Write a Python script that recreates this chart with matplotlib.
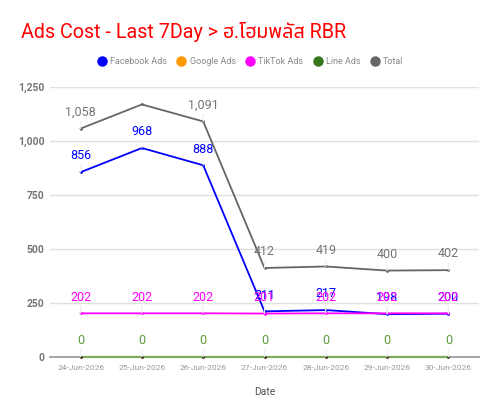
import matplotlib
matplotlib.use("Agg")
import matplotlib.pyplot as plt
from matplotlib.ticker import FuncFormatter

plt.rcParams['font.family'] = ['Roboto', 'Noto Sans Thai', 'DejaVu Sans']

# ข้อมูล
dates = ['24-Jun-2026', '25-Jun-2026', '26-Jun-2026', '27-Jun-2026',
         '28-Jun-2026', '29-Jun-2026', '30-Jun-2026']
facebook = [856, 968, 888, 211, 217, 198, 200]
google = [0, 0, 0, 0, 0, 0, 0]
tiktok = [202, 202, 202, 201, 202, 202, 202]
line_ads = [0, 0, 0, 0, 0, 0, 0]
total = [1058, 1170, 1091, 412, 419, 400, 402]

series = [
    ('Total', total, '#666666', '#757575', [0, 2, 3, 4, 5, 6]),
    ('Facebook Ads', facebook, '#0000ff', '#0000ff', range(7)),
    ('Google Ads', google, '#ff9900', '#ff9900', []),
    ('TikTok Ads', tiktok, '#ff00ff', '#ff00ff', range(7)),
    ('Line Ads', line_ads, '#7cae5a', '#5b9a3c', range(7)),
]
legend_order = ['Facebook Ads', 'Google Ads', 'TikTok Ads', 'Line Ads', 'Total']
legend_colors = {'Facebook Ads': '#0000ff', 'Google Ads': '#ff9900',
                 'TikTok Ads': '#ff00ff', 'Line Ads': '#38761d', 'Total': '#666666'}

fig = plt.figure(figsize=(5, 4.15), dpi=100)
ax = fig.add_axes([0.10, 0.14, 0.858, 0.65])

x = list(range(len(dates)))
for k, (name, vals, col, lab_col, show) in enumerate(series):
    lw = 1.6 if name == 'Line Ads' else 1.3
    ax.plot(x, vals, color=col, lw=lw, marker='o', markersize=2,
            markerfacecolor='#333333' if name == 'Line Ads' else col,
            markeredgewidth=0, zorder=3, clip_on=False)
    for i in show:
        ax.annotate(f'{vals[i]:,}', (x[i], vals[i]), xytext=(0, 7),
                    textcoords='offset points', ha='center', va='bottom',
                    fontsize=9, color=lab_col, zorder=4 + k,
                    arrowprops=dict(arrowstyle='-', color='#eeeeee', lw=0.8,
                                    shrinkA=0, shrinkB=0))

ax.set_xlim(-0.5, 6.5)
ax.set_ylim(0, 1250)
ax.set_yticks([0, 250, 500, 750, 1000, 1250])
ax.yaxis.set_major_formatter(FuncFormatter(lambda v, p: f'{int(v):,}'))
ax.set_xticks(x)
ax.set_xticklabels(dates, fontsize=6, color='#999999')
for t in ax.get_yticklabels():
    t.set_fontsize(7.5)
    t.set_color('#757575')
    t.set_fontweight('bold')
ax.tick_params(length=0, pad=4)
ax.tick_params(axis='x', pad=6)
ax.grid(axis='y', color='#e0e0e0', lw=1)
ax.set_axisbelow(True)
for s in ['top', 'right', 'left']:
    ax.spines[s].set_visible(False)
ax.spines['bottom'].set_color('#9e9e9e')
ax.spines['bottom'].set_linewidth(1.3)
ax.set_xlabel('Date', fontsize=7.5, color='#555555', labelpad=11)

fig.text(0.042, 0.908, 'Ads Cost - Last 7Day > ฮ.โฮมพลัส RBR', fontsize=14.2,
         color='#ff0000', va='baseline')

handles = [plt.Line2D([], [], ls='', marker='o', markersize=6.5,
                      color=legend_colors[n]) for n in legend_order]
fig.legend(handles, legend_order, loc='center', bbox_to_anchor=(0.5, 0.851),
           ncol=5, frameon=False, fontsize=6.5, labelcolor='#8a8a8a',
           handletextpad=0.3, columnspacing=1.0, handlelength=1.2)

fig.savefig('out.png')
